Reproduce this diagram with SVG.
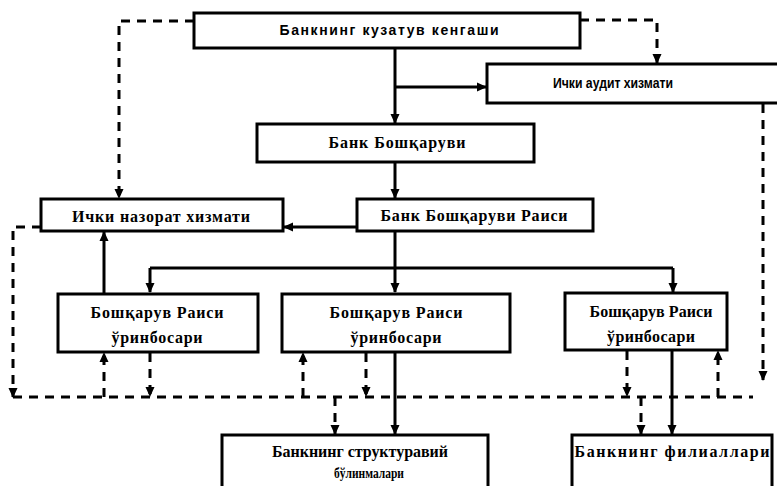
<svg xmlns="http://www.w3.org/2000/svg" width="777" height="486" viewBox="0 0 777 486">
<defs>
<marker id="ah" markerUnits="userSpaceOnUse" markerWidth="10" markerHeight="10" viewBox="0 0 10 10" refX="9" refY="5" orient="auto">
<path d="M0,0.5 L10,5 L0,9.5 Z" fill="#000"/>
</marker>
<style>
.box{fill:#fff;stroke:#000;stroke-width:3}
.s{fill:none;stroke:#000;stroke-width:3}
.d{fill:none;stroke:#000;stroke-width:3;stroke-dasharray:9 7}
.a{marker-end:url(#ah)}
.sans{font-family:"Liberation Sans",Arial,sans-serif;font-weight:bold;font-size:14px;fill:#000}
.serif{font-family:"Liberation Serif","Times New Roman",serif;font-weight:bold;font-size:16px;fill:#000}
</style>
</defs>
<rect width="777" height="486" fill="#fff"/>
<g id="connectors">
<path class="s a" d="M395,48 V123"/>
<path class="s a" d="M395,87 H486"/>
<path class="s a" d="M395,162 V198"/>
<path class="s a" d="M357,227 H284"/>
<path class="s" d="M395,231 V268"/>
<path class="s" d="M150,268 H673"/>
<path class="s a" d="M150,268 V292"/>
<path class="s a" d="M395,268 V292"/>
<path class="s a" d="M673,268 V292"/>
<path class="s a" d="M104,294 V232"/>
<path class="s a" d="M395,352 V434"/>
<path class="s a" d="M672,350 V434"/>
<path class="d a" d="M194,21 H119 V198"/>
<path class="d a" d="M580,20 H657 V63"/>
<path class="d a" d="M763,104 V380"/>
<path class="d a" d="M41,227 H13 V397"/>
<path class="d" d="M13,397 H753"/>
<path class="d a" d="M104,397 V353"/>
<path class="d a" d="M150,353 V396"/>
<path class="d a" d="M303,397 V353"/>
<path class="d a" d="M366,353 V396"/>
<path class="d a" d="M627,351 V396"/>
<path class="d a" d="M718,397 V351"/>
<path class="d a" d="M335,397 V434"/>
<path class="d a" d="M641,397 V434"/>
</g>
<g id="node-kuzatuv">
<rect class="box" x="194" y="13" width="386" height="35"/>
<text class="sans" x="389" y="35" text-anchor="middle" textLength="219">Банкнинг кузатув кенгаши</text>
</g>
<g id="node-audit">
<rect class="box" x="487" y="64" width="300" height="39"/>
<text class="sans" x="613" y="88" text-anchor="middle" textLength="120" lengthAdjust="spacingAndGlyphs">Ички аудит хизмати</text>
</g>
<g id="node-boshqaruv">
<rect class="box" x="257" y="124" width="277" height="38"/>
<text class="serif" x="397" y="148" text-anchor="middle" textLength="137">Банк Бошқаруви</text>
</g>
<g id="node-raisi">
<rect class="box" x="357" y="199" width="236" height="32"/>
<text class="serif" x="474" y="221" text-anchor="middle" textLength="187">Банк Бошқаруви Раиси</text>
</g>
<g id="node-nazorat">
<rect class="box" x="41" y="199" width="242" height="32"/>
<text class="serif" x="161" y="222" text-anchor="middle" textLength="178">Ички назорат хизмати</text>
</g>
<g id="node-deputy1">
<rect class="box" x="58" y="294" width="200" height="58"/>
<text class="serif" x="157" y="318" text-anchor="middle" textLength="133">Бошқарув Раиси</text>
<text class="serif" x="157" y="343" text-anchor="middle" textLength="91">ўринбосари</text>
</g>
<g id="node-deputy2">
<rect class="box" x="282" y="294" width="228" height="58"/>
<text class="serif" x="396" y="318" text-anchor="middle" textLength="133">Бошқарув Раиси</text>
<text class="serif" x="396" y="343" text-anchor="middle" textLength="91">ўринбосари</text>
</g>
<g id="node-deputy3">
<rect class="box" x="565" y="293" width="162" height="57"/>
<text class="serif" x="651" y="317" text-anchor="middle" textLength="123">Бошқарув Раиси</text>
<text class="serif" x="651" y="342" text-anchor="middle" textLength="88">ўринбосари</text>
</g>
<g id="node-struktura">
<rect class="box" x="222" y="435" width="266" height="60"/>
<text class="serif" x="360" y="457" text-anchor="middle" textLength="176">Банкнинг структуравий</text>
<text class="serif" x="369" y="478" text-anchor="middle" style="font-size:15px" textLength="70" lengthAdjust="spacingAndGlyphs">бўлинмалари</text>
</g>
<g id="node-filial">
<rect class="box" x="572" y="435" width="200" height="60"/>
<text class="serif" x="672" y="457" text-anchor="middle" textLength="195">Банкнинг филиаллари</text>
</g>
</svg>
